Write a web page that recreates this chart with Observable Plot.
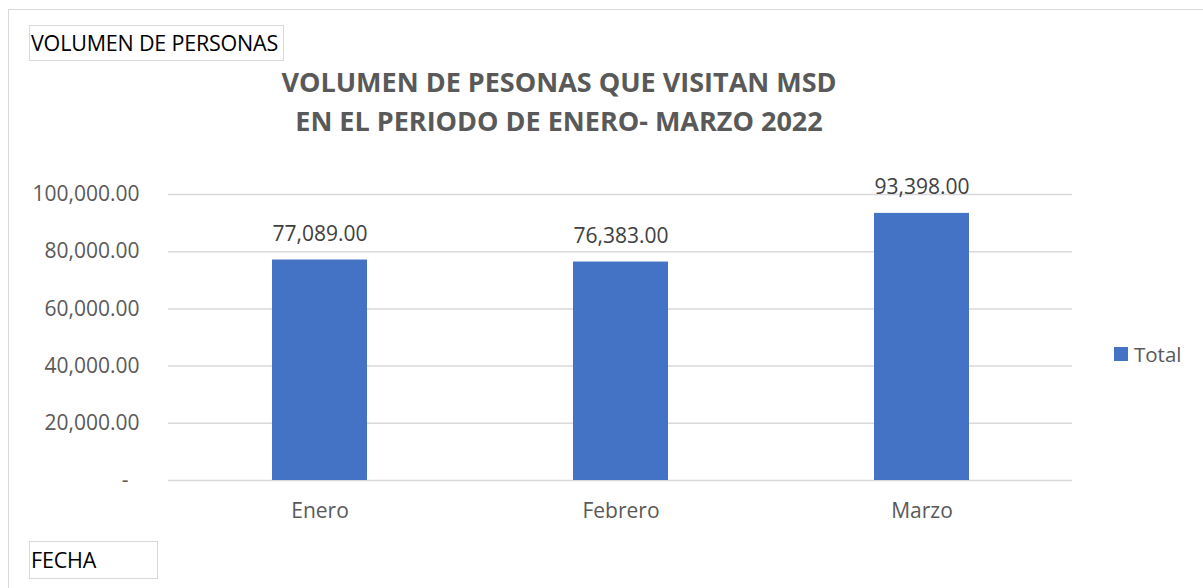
<!DOCTYPE html>
<html>
<head>
<meta charset="utf-8">
<script src="https://cdn.jsdelivr.net/npm/d3@7"></script>
<script src="https://cdn.jsdelivr.net/npm/@observablehq/plot@0.6"></script>
<style>
  html, body { margin: 0; padding: 0; background: #fff; }
  #wrap { position: relative; width: 1203px; height: 588px; overflow: hidden; font-family: "Open Sans", sans-serif; }
  #frame { position: absolute; left: 8px; top: 9px; width: 1300px; height: 700px; border: 1px solid #d9d9d9; }
  .box { position: absolute; border: 1px solid #d9d9d9; color: #000; font-size: 21.5px; line-height: 1; box-sizing: border-box; padding-left: 1px; display: flex; align-items: center; white-space: nowrap; letter-spacing: -0.2px; }
  #title { position: absolute; left: 209px; width: 700px; top: 62px; text-align: center; color: #595959; font-weight: bold; font-size: 27px; line-height: 39px; }
  #legend { position: absolute; left: 1114px; top: 340px; display: flex; align-items: center; color: #595959; font-size: 20.5px; }
  #legend span.sw { width: 14px; height: 14px; background: #4472C4; display: inline-block; margin-right: 6px; }
  #chart { position: absolute; left: 0; top: 0; }
</style>
</head>
<body>
<div id="wrap">
  <div id="frame"></div>
  <div id="chart"></div>
  <div class="box" style="left:29px;top:25px;width:255px;height:36px;">VOLUMEN DE PERSONAS</div>
  <div class="box" style="left:29px;top:541px;width:129px;height:38px;">FECHA</div>
  <div id="title">VOLUMEN DE PESONAS QUE VISITAN MSD<br>EN EL PERIODO DE ENERO- MARZO 2022</div>
  <div id="legend"><span class="sw"></span>Total</div>
</div>
<script>
const months = ["Enero", "Febrero", "Marzo"];
const totals = [77089, 76383, 93398];
const yTicks = [0, 20000, 40000, 60000, 80000, 100000];

const data = months.map((m, i) => ({month: m, total: totals[i]}));
const fmt = d3.format(",.2f");

const chart = Plot.plot({
  width: 1203,
  height: 588,
  marginLeft: 168,
  marginRight: 131,
  marginTop: 194,
  marginBottom: 108,
  style: {fontFamily: "Open Sans, sans-serif", fontSize: "21px", color: "#595959", background: "transparent", overflow: "visible"},
  x: {domain: months, paddingInner: 0.685, paddingOuter: 0.3425, label: null},
  y: {domain: [0, 100000], label: null},
  marks: [
    Plot.gridY(yTicks, {stroke: "#d9d9d9", strokeOpacity: 1, strokeWidth: 1.5}),
    Plot.barY(data, {x: "month", y: "total", fill: "#4472C4"}),
    Plot.axisY(yTicks, {tickSize: 0, tickPadding: 29, tickFormat: d => d === 0 ? "-\u00a0\u00a0" : fmt(d), fontSize: 21, fill: "#595959", label: null}),
    Plot.axisX({tickSize: 0, tickPadding: 23, fontSize: 21, fill: "#595959", label: null}),
    Plot.text(data, {x: "month", y: "total", text: d => fmt(d.total), dy: -26, fontSize: 21, fill: "#404040"})
  ]
});
document.getElementById("chart").appendChild(chart);
</script>
</body>
</html>
